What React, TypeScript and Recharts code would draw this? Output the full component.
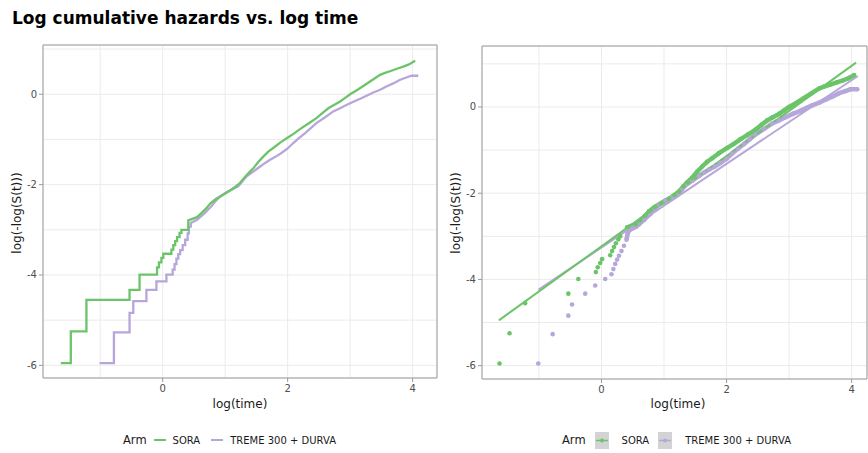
import React from 'react';
import { LineChart, ComposedChart, Line, Scatter, XAxis, YAxis, CartesianGrid, ReferenceArea } from 'recharts';

// ---- data ----
const armLabels = ['SORA', 'TREME 300 + DURVA'];
const armColors = ['#6cc46a', '#b6a6da'];

const soraX = [-1.63, -1.47, -1.22, -0.53, -0.37, -0.09, -0.06, -0.02, 0.01, 0.14, 0.17, 0.2, 0.23, 0.27, 0.3, 0.41, 0.55, 0.62, 0.7, 0.76, 0.85, 0.95, 1.08, 1.17, 1.24, 1.31, 1.37, 1.45, 1.53, 1.61, 1.69, 1.77, 1.88, 2.01, 2.11, 2.22, 2.34, 2.46, 2.56, 2.65, 2.74, 2.84, 2.92, 3.0, 3.12, 3.24, 3.36, 3.48, 3.57, 3.66, 3.76, 3.85, 3.94, 3.98, 4.04];
const soraY = [-5.95, -5.25, -4.55, -4.33, -3.99, -3.83, -3.72, -3.62, -3.53, -3.44, -3.34, -3.25, -3.16, -3.07, -3.0, -2.79, -2.72, -2.63, -2.52, -2.42, -2.32, -2.24, -2.13, -2.04, -1.96, -1.84, -1.75, -1.64, -1.5, -1.38, -1.27, -1.19, -1.07, -0.95, -0.86, -0.75, -0.64, -0.53, -0.41, -0.31, -0.24, -0.16, -0.08, 0.0, 0.1, 0.21, 0.32, 0.43, 0.48, 0.52, 0.57, 0.61, 0.66, 0.69, 0.74];

const tremeX = [-1.01, -0.78, -0.53, -0.47, -0.26, -0.1, 0.06, 0.16, 0.19, 0.22, 0.25, 0.28, 0.32, 0.36, 0.4, 0.42, 0.45, 0.55, 0.6, 0.68, 0.78, 0.85, 0.92, 1.02, 1.12, 1.21, 1.28, 1.34, 1.45, 1.56, 1.64, 1.72, 1.81, 1.9, 2.0, 2.09, 2.18, 2.28, 2.37, 2.46, 2.6, 2.73, 2.84, 2.94, 3.06, 3.18, 3.28, 3.37, 3.48, 3.58, 3.69, 3.8, 3.9, 3.98, 4.09];
const tremeY = [-5.95, -5.27, -4.84, -4.58, -4.33, -4.14, -3.99, -3.88, -3.76, -3.64, -3.54, -3.45, -3.34, -3.22, -3.08, -2.93, -2.85, -2.78, -2.72, -2.62, -2.48, -2.36, -2.26, -2.17, -2.1, -2.04, -1.92, -1.82, -1.71, -1.6, -1.52, -1.45, -1.38, -1.3, -1.2, -1.08, -0.97, -0.86, -0.75, -0.64, -0.51, -0.38, -0.31, -0.24, -0.16, -0.09, -0.02, 0.04, 0.1, 0.17, 0.24, 0.32, 0.37, 0.41, 0.41];

const soraFitX = [-1.64, 4.07];
const soraFitY = [-4.95, 1.03];
const tremeFitX = [-1.01, 4.1];
const tremeFitY = [-4.24, 0.72];

const xGridTicks = [-1, 0, 1, 2, 3, 4];
const xMajorTicks = [0, 2, 4];
const yGridTicks = [-6, -5, -4, -3, -2, -1, 0, 1];
const yMajorTicks = [-6, -4, -2, 0];

const leftXDomain = [-1.915, 4.39];
const leftYDomain = [-6.28, 1.09];
const rightXDomain = [-1.91, 4.245];
const rightYDomain = [-6.31, 1.415];

// beyond this log(time) the events are so dense the staircase reads as a smooth curve
const denseStart = 0.5;

// ---- helpers ----
const zip = (xs: number[], ys: number[]) => xs.map((x, i) => ({ x, y: ys[i] }));
// step vertices (horizontal then vertical) in the sparse part, plain vertices in the dense part
const stepPath = (xs: number[], ys: number[]) => {
  const out: { x: number; y: number }[] = [];
  xs.forEach((x, i) => {
    if (i > 0 && x < denseStart) out.push({ x, y: ys[i - 1] });
    out.push({ x, y: ys[i] });
  });
  return out;
};
const soraPts = zip(soraX, soraY);
const tremePts = zip(tremeX, tremeY);
const soraStep = stepPath(soraX, soraY);
const tremeStep = stepPath(tremeX, tremeY);
const soraFit = zip(soraFitX, soraFitY);
const tremeFit = zip(tremeFitX, tremeFitY);
const soraBand = soraPts.filter((p) => p.x >= 0.4);
const tremeBand = tremePts.filter((p) => p.x >= 0.4);

const FONT = '"DejaVu Sans", sans-serif';
const TICK_COLOR = '#4d4d4d';
const BORDER = '#9a9a9a';
const GRID = '#ebebeb';

const XTick = (props: any) => {
  const { x, y, payload } = props;
  if (!xMajorTicks.includes(payload.value)) return null;
  return (
    <g>
      <line x1={x} x2={x} y1={y - 6} y2={y - 2} stroke={BORDER} strokeWidth={1} />
      <text x={x} y={y} dy="0.75em" textAnchor="middle" fill={TICK_COLOR} fontSize={10} fontFamily={FONT}>
        {payload.value}
      </text>
    </g>
  );
};

const YTick = (props: any) => {
  const { x, y, payload } = props;
  if (!yMajorTicks.includes(payload.value)) return null;
  return (
    <g>
      <line x1={x + 2} x2={x + 6} y1={y} y2={y} stroke={BORDER} strokeWidth={1} />
      <text x={x} y={y} dy="0.35em" textAnchor="end" fill={TICK_COLOR} fontSize={10} fontFamily={FONT}>
        {payload.value}
      </text>
    </g>
  );
};

const Dot = (color: string) => (p: any) => <circle cx={p.cx} cy={p.cy} r={2.3} fill={color} />;

const axisTitleStyle: React.CSSProperties = {
  position: 'absolute',
  fontFamily: FONT,
  fontSize: 12,
  color: '#1a1a1a',
  whiteSpace: 'nowrap',
};

const LineKey = ({ color }: { color: string }) => (
  <svg width={14} height={14} style={{ display: 'block' }}>
    <line x1={1} x2={13} y1={7} y2={7} stroke={color} strokeWidth={2} />
  </svg>
);

const BoxKey = ({ color }: { color: string }) => (
  <svg width={14} height={17} style={{ display: 'block' }}>
    <rect x={0} y={0} width={14} height={17} fill="#d3d3d3" />
    <line x1={1} x2={13} y1={8.5} y2={8.5} stroke={color} strokeWidth={1.5} />
    <circle cx={7} cy={8.5} r={2} fill={color} />
  </svg>
);

const LegendRow = ({ left, boxed }: { left: number; boxed: boolean }) => (
  <div
    style={{
      position: 'absolute',
      left,
      top: 431,
      height: 18,
      display: 'flex',
      alignItems: 'center',
      fontFamily: FONT,
      fontSize: 10,
      color: '#1a1a1a',
      whiteSpace: 'nowrap',
    }}
  >
    <span style={{ fontSize: 11.5, marginRight: boxed ? 9 : 6 }}>Arm</span>
    {armLabels.map((lab, i) => (
      <React.Fragment key={lab}>
        {boxed ? <BoxKey color={armColors[i]} /> : <LineKey color={armColors[i]} />}
        <span style={{ marginLeft: boxed ? 13 : 6, marginRight: i === 0 ? (boxed ? 9 : 10) : 0 }}>{lab}</span>
      </React.Fragment>
    ))}
  </div>
);

export default function App() {
  return (
    <div
      style={{
        position: 'absolute',
        left: 0,
        top: 0,
        width: 868,
        height: 453,
        background: '#ffffff',
        overflow: 'hidden',
      }}
    >
      <div
        style={{
          position: 'absolute',
          left: 12,
          top: 8,
          fontFamily: FONT,
          fontWeight: 'bold',
          fontSize: 17,
          lineHeight: '20px',
          color: '#000',
          whiteSpace: 'nowrap',
        }}
      >
        Log cumulative hazards vs. log time
      </div>

      {/* Left panel */}
      <div style={{ position: 'absolute', left: 0, top: 0 }}>
        <LineChart width={440} height={420} margin={{ top: 45, right: 3, bottom: 0, left: 0 }}>
          <CartesianGrid stroke={GRID} strokeWidth={1} />
          <XAxis
            type="number"
            dataKey="x"
            domain={leftXDomain}
            ticks={xGridTicks}
            allowDataOverflow
            axisLine={false}
            tickLine={false}
            tickSize={3}
            tickMargin={3}
            height={42}
            tick={<XTick />}
            interval={0}
          />
          <YAxis
            type="number"
            dataKey="y"
            domain={leftYDomain}
            ticks={yGridTicks}
            allowDataOverflow
            axisLine={false}
            tickLine={false}
            tickSize={3}
            tickMargin={3}
            width={43}
            tick={<YTick />}
            interval={0}
          />
          <ReferenceArea
            x1={leftXDomain[0]}
            x2={leftXDomain[1]}
            y1={leftYDomain[0]}
            y2={leftYDomain[1]}
            fill="none"
            stroke={BORDER}
            strokeWidth={1}
            ifOverflow="visible"
          />
          <Line data={tremeStep} dataKey="y" type="linear" stroke={armColors[1]} strokeWidth={2.3} dot={false} isAnimationActive={false} />
          <Line data={soraStep} dataKey="y" type="linear" stroke={armColors[0]} strokeWidth={2.3} dot={false} isAnimationActive={false} />
        </LineChart>
      </div>

      {/* Right panel */}
      <div style={{ position: 'absolute', left: 440, top: 0 }}>
        <ComposedChart width={428} height={420} margin={{ top: 46, right: 1, bottom: 0, left: 0 }}>
          <CartesianGrid stroke={GRID} strokeWidth={1} />
          <XAxis
            type="number"
            dataKey="x"
            domain={rightXDomain}
            ticks={xGridTicks}
            allowDataOverflow
            axisLine={false}
            tickLine={false}
            tickSize={3}
            tickMargin={3}
            height={41}
            tick={<XTick />}
            interval={0}
          />
          <YAxis
            type="number"
            dataKey="y"
            domain={rightYDomain}
            ticks={yGridTicks}
            allowDataOverflow
            axisLine={false}
            tickLine={false}
            tickSize={3}
            tickMargin={3}
            width={42}
            tick={<YTick />}
            interval={0}
          />
          <ReferenceArea
            x1={rightXDomain[0]}
            x2={rightXDomain[1]}
            y1={rightYDomain[0]}
            y2={rightYDomain[1]}
            fill="none"
            stroke={BORDER}
            strokeWidth={1}
            ifOverflow="visible"
          />
          <Scatter data={tremePts} dataKey="y" fill={armColors[1]} shape={Dot(armColors[1])} isAnimationActive={false} />
          <Scatter data={soraPts} dataKey="y" fill={armColors[0]} shape={Dot(armColors[0])} isAnimationActive={false} />
          <Line data={tremeBand} dataKey="y" type="linear" stroke={armColors[1]} strokeWidth={4.5} dot={false} isAnimationActive={false} />
          <Line data={soraBand} dataKey="y" type="linear" stroke={armColors[0]} strokeWidth={4.5} dot={false} isAnimationActive={false} />
          <Line data={tremeFit} dataKey="y" type="linear" stroke={armColors[1]} strokeWidth={2} dot={false} isAnimationActive={false} />
          <Line data={soraFit} dataKey="y" type="linear" stroke={armColors[0]} strokeWidth={2} dot={false} isAnimationActive={false} />
        </ComposedChart>
      </div>

      {/* Axis titles */}
      <div style={{ ...axisTitleStyle, left: 240, top: 397, transform: 'translateX(-50%)' }}>log(time)</div>
      <div style={{ ...axisTitleStyle, left: 678, top: 397, transform: 'translateX(-50%)' }}>log(time)</div>
      <div style={{ ...axisTitleStyle, left: 17, top: 213, transform: 'translate(-50%, -50%) rotate(-90deg)' }}>log(-log(S(t)))</div>
      <div style={{ ...axisTitleStyle, left: 456, top: 213, transform: 'translate(-50%, -50%) rotate(-90deg)' }}>log(-log(S(t)))</div>

      <LegendRow left={123} boxed={false} />
      <LegendRow left={562} boxed={true} />
    </div>
  );
}
